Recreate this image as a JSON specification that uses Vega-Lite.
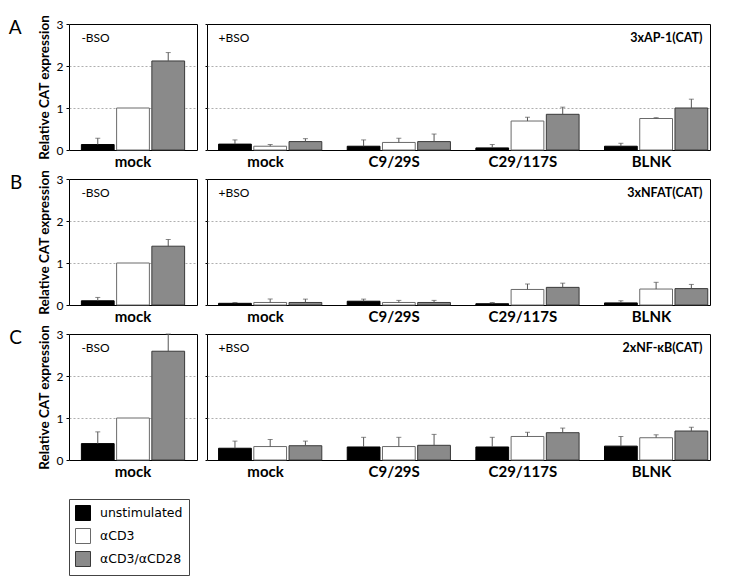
{
  "$schema": "https://vega.github.io/schema/vega-lite/v6.json",
  "background": "white",
  "padding": {"left": 8, "top": 14, "right": 5, "bottom": 5},
  "datasets": {
    "bars": [
      {"row": "A", "panel": "-BSO", "group": "mock", "stim": "unstimulated", "value": 0.13, "hi": 0.28},
      {"row": "A", "panel": "-BSO", "group": "mock", "stim": "αCD3", "value": 1.0, "hi": null},
      {"row": "A", "panel": "-BSO", "group": "mock", "stim": "αCD3/αCD28", "value": 2.12, "hi": 2.32},
      {"row": "A", "panel": "+BSO", "group": "mock", "stim": "unstimulated", "value": 0.14, "hi": 0.24},
      {"row": "A", "panel": "+BSO", "group": "mock", "stim": "αCD3", "value": 0.09, "hi": 0.13},
      {"row": "A", "panel": "+BSO", "group": "mock", "stim": "αCD3/αCD28", "value": 0.2, "hi": 0.27},
      {"row": "A", "panel": "+BSO", "group": "C9/29S", "stim": "unstimulated", "value": 0.09, "hi": 0.24},
      {"row": "A", "panel": "+BSO", "group": "C9/29S", "stim": "αCD3", "value": 0.18, "hi": 0.28},
      {"row": "A", "panel": "+BSO", "group": "C9/29S", "stim": "αCD3/αCD28", "value": 0.2, "hi": 0.38},
      {"row": "A", "panel": "+BSO", "group": "C29/117S", "stim": "unstimulated", "value": 0.05, "hi": 0.13},
      {"row": "A", "panel": "+BSO", "group": "C29/117S", "stim": "αCD3", "value": 0.69, "hi": 0.78},
      {"row": "A", "panel": "+BSO", "group": "C29/117S", "stim": "αCD3/αCD28", "value": 0.85, "hi": 1.02},
      {"row": "A", "panel": "+BSO", "group": "BLNK", "stim": "unstimulated", "value": 0.09, "hi": 0.16},
      {"row": "A", "panel": "+BSO", "group": "BLNK", "stim": "αCD3", "value": 0.75, "hi": 0.77},
      {"row": "A", "panel": "+BSO", "group": "BLNK", "stim": "αCD3/αCD28", "value": 1.0, "hi": 1.21},
      {"row": "B", "panel": "-BSO", "group": "mock", "stim": "unstimulated", "value": 0.1, "hi": 0.18},
      {"row": "B", "panel": "-BSO", "group": "mock", "stim": "αCD3", "value": 1.0, "hi": null},
      {"row": "B", "panel": "-BSO", "group": "mock", "stim": "αCD3/αCD28", "value": 1.4, "hi": 1.56},
      {"row": "B", "panel": "+BSO", "group": "mock", "stim": "unstimulated", "value": 0.04, "hi": 0.06},
      {"row": "B", "panel": "+BSO", "group": "mock", "stim": "αCD3", "value": 0.06, "hi": 0.14},
      {"row": "B", "panel": "+BSO", "group": "mock", "stim": "αCD3/αCD28", "value": 0.06, "hi": 0.14},
      {"row": "B", "panel": "+BSO", "group": "C9/29S", "stim": "unstimulated", "value": 0.09, "hi": 0.14},
      {"row": "B", "panel": "+BSO", "group": "C9/29S", "stim": "αCD3", "value": 0.06, "hi": 0.11},
      {"row": "B", "panel": "+BSO", "group": "C9/29S", "stim": "αCD3/αCD28", "value": 0.06, "hi": 0.11},
      {"row": "B", "panel": "+BSO", "group": "C29/117S", "stim": "unstimulated", "value": 0.03, "hi": 0.06},
      {"row": "B", "panel": "+BSO", "group": "C29/117S", "stim": "αCD3", "value": 0.37, "hi": 0.5},
      {"row": "B", "panel": "+BSO", "group": "C29/117S", "stim": "αCD3/αCD28", "value": 0.42, "hi": 0.52},
      {"row": "B", "panel": "+BSO", "group": "BLNK", "stim": "unstimulated", "value": 0.05, "hi": 0.1},
      {"row": "B", "panel": "+BSO", "group": "BLNK", "stim": "αCD3", "value": 0.38, "hi": 0.54},
      {"row": "B", "panel": "+BSO", "group": "BLNK", "stim": "αCD3/αCD28", "value": 0.39, "hi": 0.49},
      {"row": "C", "panel": "-BSO", "group": "mock", "stim": "unstimulated", "value": 0.39, "hi": 0.67},
      {"row": "C", "panel": "-BSO", "group": "mock", "stim": "αCD3", "value": 1.0, "hi": null},
      {"row": "C", "panel": "-BSO", "group": "mock", "stim": "αCD3/αCD28", "value": 2.59, "hi": 3.0},
      {"row": "C", "panel": "+BSO", "group": "mock", "stim": "unstimulated", "value": 0.28, "hi": 0.45},
      {"row": "C", "panel": "+BSO", "group": "mock", "stim": "αCD3", "value": 0.32, "hi": 0.49},
      {"row": "C", "panel": "+BSO", "group": "mock", "stim": "αCD3/αCD28", "value": 0.34, "hi": 0.45},
      {"row": "C", "panel": "+BSO", "group": "C9/29S", "stim": "unstimulated", "value": 0.31, "hi": 0.54},
      {"row": "C", "panel": "+BSO", "group": "C9/29S", "stim": "αCD3", "value": 0.32, "hi": 0.54},
      {"row": "C", "panel": "+BSO", "group": "C9/29S", "stim": "αCD3/αCD28", "value": 0.35, "hi": 0.61},
      {"row": "C", "panel": "+BSO", "group": "C29/117S", "stim": "unstimulated", "value": 0.31, "hi": 0.54},
      {"row": "C", "panel": "+BSO", "group": "C29/117S", "stim": "αCD3", "value": 0.56, "hi": 0.66},
      {"row": "C", "panel": "+BSO", "group": "C29/117S", "stim": "αCD3/αCD28", "value": 0.65, "hi": 0.76},
      {"row": "C", "panel": "+BSO", "group": "BLNK", "stim": "unstimulated", "value": 0.33, "hi": 0.56},
      {"row": "C", "panel": "+BSO", "group": "BLNK", "stim": "αCD3", "value": 0.53, "hi": 0.6},
      {"row": "C", "panel": "+BSO", "group": "BLNK", "stim": "αCD3/αCD28", "value": 0.69, "hi": 0.78}
    ]
  },
  "vconcat": [
    {
      "title": {"text": "A", "orient": "left", "anchor": "end", "angle": 0, "align": "right", "baseline": "top", "fontSize": 19, "fontWeight": "normal", "font": "Lato", "offset": 2, "dy": 5},
      "hconcat": [
        {
          "width": 128, "height": 126,
          "data": {"name": "bars"},
          "transform": [{"filter": "datum.row == 'A' && datum.panel == '-BSO'"}],
          "layer": [
            {"mark": {"type": "bar"},
             "encoding": {
               "x": {"field": "group", "type": "nominal", "title": null, "scale": {"paddingInner": 0, "paddingOuter": 0.12}},
               "xOffset": {"field": "stim", "sort": ["unstimulated", "αCD3", "αCD3/αCD28"], "scale": {"paddingInner": 0.07}},
               "y": {"field": "value", "type": "quantitative", "title": "Relative CAT expression", "scale": {"domain": [0, 3], "nice": false},
                     "axis": {"values": [0, 1, 2, 3], "grid": true, "gridOpacity": {"condition": {"test": "datum.value == 1 || datum.value == 2", "value": 1}, "value": 0}}},
               "fill": {"field": "stim", "title": null, "sort": ["unstimulated", "αCD3", "αCD3/αCD28"], "scale": {"domain": ["unstimulated", "αCD3", "αCD3/αCD28"], "range": ["#000000", "#ffffff", "#8a8a8a"]}},
               "stroke": {"field": "stim", "title": null, "sort": ["unstimulated", "αCD3", "αCD3/αCD28"], "scale": {"domain": ["unstimulated", "αCD3", "αCD3/αCD28"], "range": ["#000000", "#6a6a6a", "#3a3a3a"]}}
             }},
            {"transform": [{"filter": "datum.hi != null"}],
             "mark": {"type": "rule", "color": "#555", "strokeWidth": 1},
             "encoding": {
               "x": {"field": "group", "type": "nominal"},
               "xOffset": {"field": "stim", "sort": ["unstimulated", "αCD3", "αCD3/αCD28"]},
               "y": {"field": "value", "type": "quantitative"},
               "y2": {"field": "hi"}
             }},
            {"transform": [{"filter": "datum.hi != null"}],
             "mark": {"type": "tick", "color": "#555", "size": 5, "thickness": 1},
             "encoding": {
               "x": {"field": "group", "type": "nominal"},
               "xOffset": {"field": "stim", "sort": ["unstimulated", "αCD3", "αCD3/αCD28"]},
               "y": {"field": "hi", "type": "quantitative"}
             }},
            {"data": {"values": [{"label": "-BSO"}]},
             "mark": {"type": "text", "align": "left", "baseline": "middle", "fontSize": 12, "font": "Lato"},
             "encoding": {"x": {"datum": "mock", "bandPosition": 0}, "y": {"datum": 2.67}, "text": {"field": "label"}}}
          ]
        },
        {
          "width": 503, "height": 126,
          "data": {"name": "bars"},
          "transform": [{"filter": "datum.row == 'A' && datum.panel == '+BSO'"}],
          "layer": [
            {"mark": {"type": "bar"},
             "encoding": {
               "x": {"field": "group", "type": "nominal", "title": null, "sort": ["mock", "C9/29S", "C29/117S", "BLNK"], "scale": {"paddingInner": 0.27, "paddingOuter": 0.09}},
               "xOffset": {"field": "stim", "sort": ["unstimulated", "αCD3", "αCD3/αCD28"], "scale": {"paddingInner": 0.07}},
               "y": {"field": "value", "type": "quantitative", "title": null, "scale": {"domain": [0, 3], "nice": false},
                     "axis": {"values": [0, 0.25, 0.5, 0.75, 1, 1.25, 1.5, 1.75, 2, 2.25, 2.5, 2.75, 3], "labels": false, "tickSize": 2, "grid": true, "gridOpacity": {"condition": {"test": "datum.value == 1 || datum.value == 2", "value": 1}, "value": 0}}},
               "fill": {"field": "stim", "title": null, "sort": ["unstimulated", "αCD3", "αCD3/αCD28"], "scale": {"domain": ["unstimulated", "αCD3", "αCD3/αCD28"], "range": ["#000000", "#ffffff", "#8a8a8a"]}},
               "stroke": {"field": "stim", "title": null, "sort": ["unstimulated", "αCD3", "αCD3/αCD28"], "scale": {"domain": ["unstimulated", "αCD3", "αCD3/αCD28"], "range": ["#000000", "#6a6a6a", "#3a3a3a"]}}
             }},
            {"transform": [{"filter": "datum.hi != null"}],
             "mark": {"type": "rule", "color": "#555", "strokeWidth": 1},
             "encoding": {
               "x": {"field": "group", "type": "nominal", "sort": ["mock", "C9/29S", "C29/117S", "BLNK"]},
               "xOffset": {"field": "stim", "sort": ["unstimulated", "αCD3", "αCD3/αCD28"]},
               "y": {"field": "value", "type": "quantitative"},
               "y2": {"field": "hi"}
             }},
            {"transform": [{"filter": "datum.hi != null"}],
             "mark": {"type": "tick", "color": "#555", "size": 5, "thickness": 1},
             "encoding": {
               "x": {"field": "group", "type": "nominal", "sort": ["mock", "C9/29S", "C29/117S", "BLNK"]},
               "xOffset": {"field": "stim", "sort": ["unstimulated", "αCD3", "αCD3/αCD28"]},
               "y": {"field": "hi", "type": "quantitative"}
             }},
            {"data": {"values": [{"label": "+BSO"}]},
             "mark": {"type": "text", "align": "left", "baseline": "middle", "fontSize": 12, "font": "Lato"},
             "encoding": {"x": {"datum": "mock", "bandPosition": 0}, "y": {"datum": 2.67}, "text": {"field": "label"}}},
            {"data": {"values": [{"label": "3xAP-1(CAT)"}]},
             "mark": {"type": "text", "align": "right", "baseline": "middle", "fontSize": 12.5, "fontWeight": "bold", "font": "Lato", "dx": 4},
             "encoding": {"x": {"datum": "BLNK", "bandPosition": 1}, "y": {"datum": 2.67}, "text": {"field": "label"}}}
          ]
        }
      ]
    },
    {
      "title": {"text": "B", "orient": "left", "anchor": "end", "angle": 0, "align": "right", "baseline": "top", "fontSize": 19, "fontWeight": "normal", "font": "Lato", "offset": 2, "dy": 5},
      "hconcat": [
        {
          "width": 128, "height": 126,
          "data": {"name": "bars"},
          "transform": [{"filter": "datum.row == 'B' && datum.panel == '-BSO'"}],
          "layer": [
            {"mark": {"type": "bar"},
             "encoding": {
               "x": {"field": "group", "type": "nominal", "title": null, "scale": {"paddingInner": 0, "paddingOuter": 0.12}},
               "xOffset": {"field": "stim", "sort": ["unstimulated", "αCD3", "αCD3/αCD28"], "scale": {"paddingInner": 0.07}},
               "y": {"field": "value", "type": "quantitative", "title": "Relative CAT expression", "scale": {"domain": [0, 3], "nice": false},
                     "axis": {"values": [0, 1, 2, 3], "grid": true, "gridOpacity": {"condition": {"test": "datum.value == 1 || datum.value == 2", "value": 1}, "value": 0}}},
               "fill": {"field": "stim", "title": null, "sort": ["unstimulated", "αCD3", "αCD3/αCD28"], "scale": {"domain": ["unstimulated", "αCD3", "αCD3/αCD28"], "range": ["#000000", "#ffffff", "#8a8a8a"]}},
               "stroke": {"field": "stim", "title": null, "sort": ["unstimulated", "αCD3", "αCD3/αCD28"], "scale": {"domain": ["unstimulated", "αCD3", "αCD3/αCD28"], "range": ["#000000", "#6a6a6a", "#3a3a3a"]}}
             }},
            {"transform": [{"filter": "datum.hi != null"}],
             "mark": {"type": "rule", "color": "#555", "strokeWidth": 1},
             "encoding": {
               "x": {"field": "group", "type": "nominal"},
               "xOffset": {"field": "stim", "sort": ["unstimulated", "αCD3", "αCD3/αCD28"]},
               "y": {"field": "value", "type": "quantitative"},
               "y2": {"field": "hi"}
             }},
            {"transform": [{"filter": "datum.hi != null"}],
             "mark": {"type": "tick", "color": "#555", "size": 5, "thickness": 1},
             "encoding": {
               "x": {"field": "group", "type": "nominal"},
               "xOffset": {"field": "stim", "sort": ["unstimulated", "αCD3", "αCD3/αCD28"]},
               "y": {"field": "hi", "type": "quantitative"}
             }},
            {"data": {"values": [{"label": "-BSO"}]},
             "mark": {"type": "text", "align": "left", "baseline": "middle", "fontSize": 12, "font": "Lato"},
             "encoding": {"x": {"datum": "mock", "bandPosition": 0}, "y": {"datum": 2.67}, "text": {"field": "label"}}}
          ]
        },
        {
          "width": 503, "height": 126,
          "data": {"name": "bars"},
          "transform": [{"filter": "datum.row == 'B' && datum.panel == '+BSO'"}],
          "layer": [
            {"mark": {"type": "bar"},
             "encoding": {
               "x": {"field": "group", "type": "nominal", "title": null, "sort": ["mock", "C9/29S", "C29/117S", "BLNK"], "scale": {"paddingInner": 0.27, "paddingOuter": 0.09}},
               "xOffset": {"field": "stim", "sort": ["unstimulated", "αCD3", "αCD3/αCD28"], "scale": {"paddingInner": 0.07}},
               "y": {"field": "value", "type": "quantitative", "title": null, "scale": {"domain": [0, 3], "nice": false},
                     "axis": {"values": [0, 0.25, 0.5, 0.75, 1, 1.25, 1.5, 1.75, 2, 2.25, 2.5, 2.75, 3], "labels": false, "tickSize": 2, "grid": true, "gridOpacity": {"condition": {"test": "datum.value == 1 || datum.value == 2", "value": 1}, "value": 0}}},
               "fill": {"field": "stim", "title": null, "sort": ["unstimulated", "αCD3", "αCD3/αCD28"], "scale": {"domain": ["unstimulated", "αCD3", "αCD3/αCD28"], "range": ["#000000", "#ffffff", "#8a8a8a"]}},
               "stroke": {"field": "stim", "title": null, "sort": ["unstimulated", "αCD3", "αCD3/αCD28"], "scale": {"domain": ["unstimulated", "αCD3", "αCD3/αCD28"], "range": ["#000000", "#6a6a6a", "#3a3a3a"]}}
             }},
            {"transform": [{"filter": "datum.hi != null"}],
             "mark": {"type": "rule", "color": "#555", "strokeWidth": 1},
             "encoding": {
               "x": {"field": "group", "type": "nominal", "sort": ["mock", "C9/29S", "C29/117S", "BLNK"]},
               "xOffset": {"field": "stim", "sort": ["unstimulated", "αCD3", "αCD3/αCD28"]},
               "y": {"field": "value", "type": "quantitative"},
               "y2": {"field": "hi"}
             }},
            {"transform": [{"filter": "datum.hi != null"}],
             "mark": {"type": "tick", "color": "#555", "size": 5, "thickness": 1},
             "encoding": {
               "x": {"field": "group", "type": "nominal", "sort": ["mock", "C9/29S", "C29/117S", "BLNK"]},
               "xOffset": {"field": "stim", "sort": ["unstimulated", "αCD3", "αCD3/αCD28"]},
               "y": {"field": "hi", "type": "quantitative"}
             }},
            {"data": {"values": [{"label": "+BSO"}]},
             "mark": {"type": "text", "align": "left", "baseline": "middle", "fontSize": 12, "font": "Lato"},
             "encoding": {"x": {"datum": "mock", "bandPosition": 0}, "y": {"datum": 2.67}, "text": {"field": "label"}}},
            {"data": {"values": [{"label": "3xNFAT(CAT)"}]},
             "mark": {"type": "text", "align": "right", "baseline": "middle", "fontSize": 12.5, "fontWeight": "bold", "font": "Lato", "dx": 4},
             "encoding": {"x": {"datum": "BLNK", "bandPosition": 1}, "y": {"datum": 2.67}, "text": {"field": "label"}}}
          ]
        }
      ]
    },
    {
      "title": {"text": "C", "orient": "left", "anchor": "end", "angle": 0, "align": "right", "baseline": "top", "fontSize": 19, "fontWeight": "normal", "font": "Lato", "offset": 2, "dy": 5},
      "hconcat": [
        {
          "width": 128, "height": 126,
          "data": {"name": "bars"},
          "transform": [{"filter": "datum.row == 'C' && datum.panel == '-BSO'"}],
          "layer": [
            {"mark": {"type": "bar"},
             "encoding": {
               "x": {"field": "group", "type": "nominal", "title": null, "scale": {"paddingInner": 0, "paddingOuter": 0.12}},
               "xOffset": {"field": "stim", "sort": ["unstimulated", "αCD3", "αCD3/αCD28"], "scale": {"paddingInner": 0.07}},
               "y": {"field": "value", "type": "quantitative", "title": "Relative CAT expression", "scale": {"domain": [0, 3], "nice": false},
                     "axis": {"values": [0, 1, 2, 3], "grid": true, "gridOpacity": {"condition": {"test": "datum.value == 1 || datum.value == 2", "value": 1}, "value": 0}}},
               "fill": {"field": "stim", "title": null, "sort": ["unstimulated", "αCD3", "αCD3/αCD28"], "scale": {"domain": ["unstimulated", "αCD3", "αCD3/αCD28"], "range": ["#000000", "#ffffff", "#8a8a8a"]}},
               "stroke": {"field": "stim", "title": null, "sort": ["unstimulated", "αCD3", "αCD3/αCD28"], "scale": {"domain": ["unstimulated", "αCD3", "αCD3/αCD28"], "range": ["#000000", "#6a6a6a", "#3a3a3a"]}}
             }},
            {"transform": [{"filter": "datum.hi != null"}],
             "mark": {"type": "rule", "color": "#555", "strokeWidth": 1},
             "encoding": {
               "x": {"field": "group", "type": "nominal"},
               "xOffset": {"field": "stim", "sort": ["unstimulated", "αCD3", "αCD3/αCD28"]},
               "y": {"field": "value", "type": "quantitative"},
               "y2": {"field": "hi"}
             }},
            {"transform": [{"filter": "datum.hi != null"}],
             "mark": {"type": "tick", "color": "#555", "size": 5, "thickness": 1},
             "encoding": {
               "x": {"field": "group", "type": "nominal"},
               "xOffset": {"field": "stim", "sort": ["unstimulated", "αCD3", "αCD3/αCD28"]},
               "y": {"field": "hi", "type": "quantitative"}
             }},
            {"data": {"values": [{"label": "-BSO"}]},
             "mark": {"type": "text", "align": "left", "baseline": "middle", "fontSize": 12, "font": "Lato"},
             "encoding": {"x": {"datum": "mock", "bandPosition": 0}, "y": {"datum": 2.67}, "text": {"field": "label"}}}
          ]
        },
        {
          "width": 503, "height": 126,
          "data": {"name": "bars"},
          "transform": [{"filter": "datum.row == 'C' && datum.panel == '+BSO'"}],
          "layer": [
            {"mark": {"type": "bar"},
             "encoding": {
               "x": {"field": "group", "type": "nominal", "title": null, "sort": ["mock", "C9/29S", "C29/117S", "BLNK"], "scale": {"paddingInner": 0.27, "paddingOuter": 0.09}},
               "xOffset": {"field": "stim", "sort": ["unstimulated", "αCD3", "αCD3/αCD28"], "scale": {"paddingInner": 0.07}},
               "y": {"field": "value", "type": "quantitative", "title": null, "scale": {"domain": [0, 3], "nice": false},
                     "axis": {"values": [0, 0.25, 0.5, 0.75, 1, 1.25, 1.5, 1.75, 2, 2.25, 2.5, 2.75, 3], "labels": false, "tickSize": 2, "grid": true, "gridOpacity": {"condition": {"test": "datum.value == 1 || datum.value == 2", "value": 1}, "value": 0}}},
               "fill": {"field": "stim", "title": null, "sort": ["unstimulated", "αCD3", "αCD3/αCD28"], "scale": {"domain": ["unstimulated", "αCD3", "αCD3/αCD28"], "range": ["#000000", "#ffffff", "#8a8a8a"]}},
               "stroke": {"field": "stim", "title": null, "sort": ["unstimulated", "αCD3", "αCD3/αCD28"], "scale": {"domain": ["unstimulated", "αCD3", "αCD3/αCD28"], "range": ["#000000", "#6a6a6a", "#3a3a3a"]}}
             }},
            {"transform": [{"filter": "datum.hi != null"}],
             "mark": {"type": "rule", "color": "#555", "strokeWidth": 1},
             "encoding": {
               "x": {"field": "group", "type": "nominal", "sort": ["mock", "C9/29S", "C29/117S", "BLNK"]},
               "xOffset": {"field": "stim", "sort": ["unstimulated", "αCD3", "αCD3/αCD28"]},
               "y": {"field": "value", "type": "quantitative"},
               "y2": {"field": "hi"}
             }},
            {"transform": [{"filter": "datum.hi != null"}],
             "mark": {"type": "tick", "color": "#555", "size": 5, "thickness": 1},
             "encoding": {
               "x": {"field": "group", "type": "nominal", "sort": ["mock", "C9/29S", "C29/117S", "BLNK"]},
               "xOffset": {"field": "stim", "sort": ["unstimulated", "αCD3", "αCD3/αCD28"]},
               "y": {"field": "hi", "type": "quantitative"}
             }},
            {"data": {"values": [{"label": "+BSO"}]},
             "mark": {"type": "text", "align": "left", "baseline": "middle", "fontSize": 12, "font": "Lato"},
             "encoding": {"x": {"datum": "mock", "bandPosition": 0}, "y": {"datum": 2.67}, "text": {"field": "label"}}},
            {"data": {"values": [{"label": "2xNF-κB(CAT)"}]},
             "mark": {"type": "text", "align": "right", "baseline": "middle", "fontSize": 12.5, "fontWeight": "bold", "font": "Lato", "dx": 4},
             "encoding": {"x": {"datum": "BLNK", "bandPosition": 1}, "y": {"datum": 2.67}, "text": {"field": "label"}}}
          ]
        }
      ]
    }
  ],
  "spacing": -1,
  "config": {
    "view": {"stroke": "#000000", "strokeWidth": 1},
    "concat": {"spacing": 6},
    "axis": {"labelFont": "Lato", "titleFont": "Lato", "domain": false, "tickColor": "#000", "labelColor": "#000", "titleColor": "#000", "gridColor": "#9a9a9a", "gridDash": [2, 2], "gridWidth": 0.8},
    "axisX": {"ticks": false, "labelFontSize": 15, "labelFontWeight": "bold", "labelPadding": 4, "labelAngle": 0},
    "axisY": {"tickSize": 3, "labelFontSize": 12, "labelPadding": 3, "titleFontSize": 13.5, "titleFontWeight": "bold", "titlePadding": 5},
    "legend": {"orient": "none", "legendX": 0, "legendY": 475, "strokeColor": "#444", "padding": 6, "symbolType": "square", "symbolSize": 225, "symbolStrokeWidth": 1, "labelFont": "DejaVu Sans", "labelFontSize": 12.5, "labelColor": "#000", "labelOffset": 9, "rowPadding": 3, "symbolOpacity": 1}
  }
}
